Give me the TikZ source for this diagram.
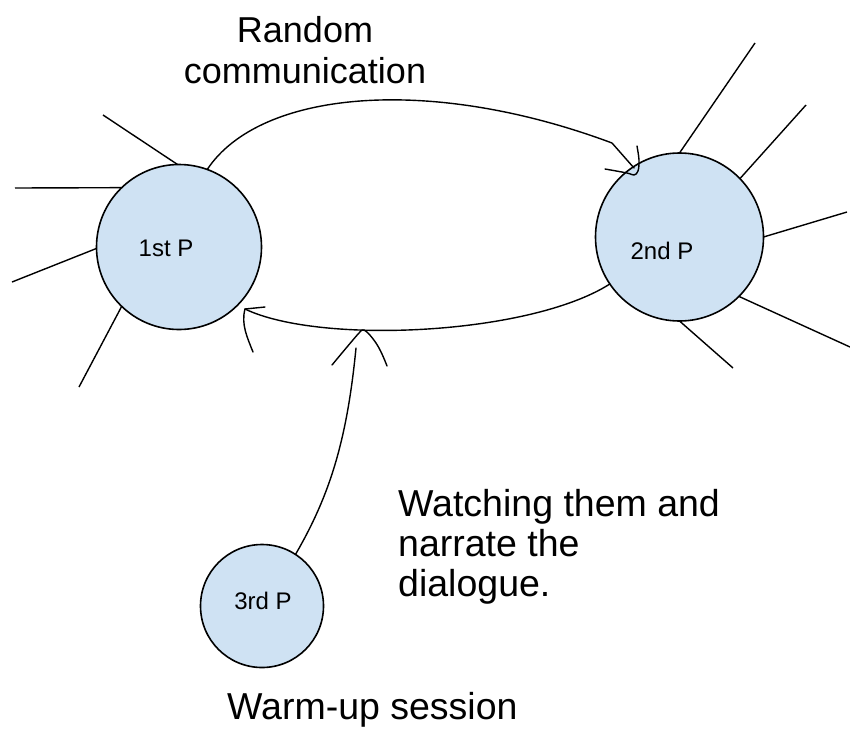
\documentclass[tikz,border=0pt]{standalone}
\usepackage{fontspec}
\setmainfont{Liberation Sans}
\definecolor{pblue}{HTML}{CFE2F3}
\begin{document}
\begin{tikzpicture}[x=1pt,y=-1pt,
  pers/.style={circle,draw=black,line width=1.6pt,fill=pblue,inner sep=0pt,outer sep=0pt},
  spoke/.style={line width=1.4pt},
  conn/.style={line width=1.4pt,line cap=round,line join=round},
  big/.style={font=\fontsize{36}{41}\selectfont,inner sep=0pt},
  bigger/.style={font=\fontsize{37.5}{40}\selectfont,inner sep=0pt},
  small/.style={font=\fontsize{24}{28}\selectfont,inner sep=0pt}]
\useasboundingbox (0,0) rectangle (850,731);
% persons
\node[pers,minimum size=165pt] (p1) at (179,247) {};
\node[pers,minimum size=168pt] (p2) at (679.5,237) {};
\node[pers,minimum size=123pt] (p3) at (262,606) {};
\node[small] (l1) at (166,248) {1st P};
\node[small] (l2) at (662,251) {2nd P};
\node[small] (l3) at (263,601) {3rd P};
% spokes of 1st P
\coordinate (a1) at (103,115);
\coordinate (a2) at (15,188);
\coordinate (a3) at (12,282);
\coordinate (a4) at (79,387);
\draw[spoke] (a1) -- (p1.91);
\draw[spoke] (a2) -- (p1.134);
\draw[spoke] (a3) -- (p1.181);
\draw[spoke] (a4) -- (p1.226);
% spokes of 2nd P
\coordinate (b1) at (755,43);
\coordinate (b2) at (806,105);
\coordinate (b3) at (847,212);
\coordinate (b4) at (850,347);
\coordinate (b5) at (733,368);
\draw[spoke] (b1) -- (p2.90);
\draw[spoke] (b2) -- (p2.44);
\draw[spoke] (b3) -- (p2.0);
\draw[spoke] (b4) -- (p2.-45);
\draw[spoke] (b5) -- (p2.-90);
% arrow tips
\coordinate (t1) at (634,168);
\coordinate (t2) at (245,309);
\coordinate (t3) at (362,330);
\coordinate (s3) at (356,348);
% top arc 1st -> 2nd
\draw[conn] (p1.70) .. controls (260,90) and (430,75) .. (612,143) -- (t1);
\draw[conn,shift={(t1)}] plot[smooth,tension=0.6] coordinates {(-29,1) (-7,5) (0,7) (4,3) (5,-8) (3,-22)};
% bottom arc 2nd -> 1st
\draw[conn] (p2.214) .. controls (530,335) and (320,345) .. (t2);
\draw[conn,shift={(t2)}] (20,-2) -- (0,0) .. controls (-4,15) and (2,28) .. (8,43);
% 3rd P arrow
\draw[conn] (p3.57) .. controls (330,495) and (347,440) .. (s3);
\draw[conn,shift={(t3)}] plot[smooth,tension=0.6] coordinates {(-30,35) (-15,17) (-3,3) (1,0) (6,3) (14,13) (20,24) (25,36)};
% texts
\node[big,align=center,anchor=north] (tr) at (305,16) {Random\\communication};
\node[bigger,align=left,anchor=north west] (tw) at (398,489) {Watching them and\\narrate the\\dialogue.};
\node[bigger,anchor=north west] (ts) at (227,692) {Warm-up session};
\end{tikzpicture}
\end{document}
